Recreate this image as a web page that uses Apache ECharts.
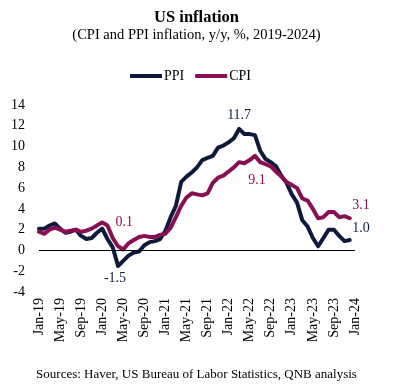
<!DOCTYPE html>
<html>
<head>
<meta charset="utf-8">
<script src="https://cdn.jsdelivr.net/npm/echarts@6/dist/echarts.min.js"></script>
<style>html,body{margin:0;padding:0;background:#fff}#c{width:393px;height:387px}</style>
</head>
<body>
<div id="c"></div>
<script>
const months = ["Jan","Feb","Mar","Apr","May","Jun","Jul","Aug","Sep","Oct","Nov","Dec"];
const years = ["19","20","21","22","23"];
const categories = [];
years.forEach(y => months.forEach(m => categories.push(m + "-" + y)));
categories.push("Jan-24");

const ppi = [
  2.1, 2.1, 2.4, 2.6, 2.1, 1.7, 1.8, 2.0, 1.4, 1.1, 1.2, 1.7,
  2.1, 1.1, 0.3, -1.5, -1.0, -0.5, -0.2, -0.1, 0.5, 0.8, 0.9, 1.1,
  1.9, 3.2, 4.3, 6.6, 7.1, 7.5, 8.0, 8.7, 8.9, 9.1, 9.9, 10.1,
  10.4, 10.8, 11.7, 11.2, 11.2, 11.1, 9.6, 8.8, 8.5, 8.1, 7.2, 6.5,
  5.4, 4.6, 2.9, 2.3, 1.2, 0.4, 1.2, 2.0, 2.0, 1.4, 0.9, 1.0
];
const cpi = [
  1.8, 1.6, 2.0, 2.2, 2.0, 1.8, 1.9, 2.0, 1.8, 1.9, 2.1, 2.4,
  2.7, 2.4, 1.2, 0.4, 0.1, 0.7, 1.0, 1.3, 1.4, 1.3, 1.3, 1.5,
  1.6, 2.2, 3.2, 4.3, 5.1, 5.5, 5.4, 5.3, 5.5, 6.5, 7.0, 7.2,
  7.6, 8.0, 8.5, 8.4, 8.7, 9.1, 8.5, 8.3, 8.1, 7.6, 7.1, 6.6,
  6.3, 6.0, 5.0, 4.8, 4.0, 3.1, 3.2, 3.7, 3.7, 3.2, 3.3, 3.1
];

const font = "'Liberation Serif','Times New Roman',serif";
const navy = "#0e1a3c";
const plum = "#8a0f52";

function withLabels(arr, labels) {
  return arr.map((v, i) => labels[i]
    ? { value: v, symbol: "circle", symbolSize: 1, label: Object.assign({ show: true, formatter: v.toFixed(1) }, labels[i]) }
    : { value: v, symbol: "none" });
}

const ppiData = withLabels(ppi, {
  38: { position: "top", distance: 6 },
  15: { position: "bottom", distance: 5, offset: [-3, 0] },
  59: { position: "right", distance: 2, offset: [0, -12] }
});
const cpiData = withLabels(cpi, {
  41: { position: "bottom", distance: 17, offset: [2, 0] },
  16: { position: "top", distance: 20, offset: [1, 0] },
  59: { position: "right", distance: 2, offset: [0, -13] }
});

const chart = echarts.init(document.getElementById("c"), null, { renderer: "canvas" });
chart.setOption({
  animation: false,
  backgroundColor: "#fff",
  title: [
    {
      text: "US inflation",
      subtext: "(CPI and PPI inflation, y/y, %, 2019-2024)",
      left: "center", top: 4, itemGap: 2,
      textStyle: { fontFamily: font, fontSize: 16.5, fontWeight: "bold", color: "#000" },
      subtextStyle: { fontFamily: font, fontSize: 14.5, color: "#000" }
    },
    {
      text: "Sources: Haver, US Bureau of Labor Statistics, QNB analysis",
      left: "center", top: 363,
      textStyle: { fontFamily: font, fontSize: 13, fontWeight: "normal", color: "#000" }
    }
  ],
  legend: {
    top: 64, left: 125, itemWidth: 32, itemHeight: 4, itemGap: 11,
    icon: "rect",
    textStyle: { fontFamily: font, fontSize: 14, color: "#000", padding: [0, 0, 0, -3] },
    data: ["PPI", "CPI"]
  },
  grid: { left: 39, right: 38, top: 105, bottom: 95 },
  xAxis: {
    type: "category", data: categories, boundaryGap: false,
    axisLine: { show: false, onZero: false },
    axisTick: { show: false },
    splitLine: { show: false },
    axisLabel: { interval: 3, rotate: 90, margin: 6, fontFamily: font, fontSize: 14, color: "#000" }
  },
  yAxis: {
    type: "value", min: -4, max: 14, interval: 2,
    axisLine: { show: false }, axisTick: { show: false }, splitLine: { show: false },
    axisLabel: { margin: 14, fontFamily: font, fontSize: 14, color: "#000" }
  },
  series: [
    {
      name: "PPI", type: "line", data: ppiData, showAllSymbol: true, z: 3,
      lineStyle: { color: navy, width: 4, cap: "round", join: "round" },
      itemStyle: { color: navy },
      label: { fontFamily: font, fontSize: 14, color: navy },
      markLine: {
        silent: true, symbol: "none", animation: false,
        label: { show: false },
        lineStyle: { color: "#000", width: 1, type: "solid" },
        data: [{ yAxis: 0 }]
      }
    },
    {
      name: "CPI", type: "line", data: cpiData, showAllSymbol: true, z: 4,
      lineStyle: { color: plum, width: 4, cap: "round", join: "round" },
      itemStyle: { color: plum },
      label: { fontFamily: font, fontSize: 14, color: plum }
    }
  ]
});
</script>
</body>
</html>
